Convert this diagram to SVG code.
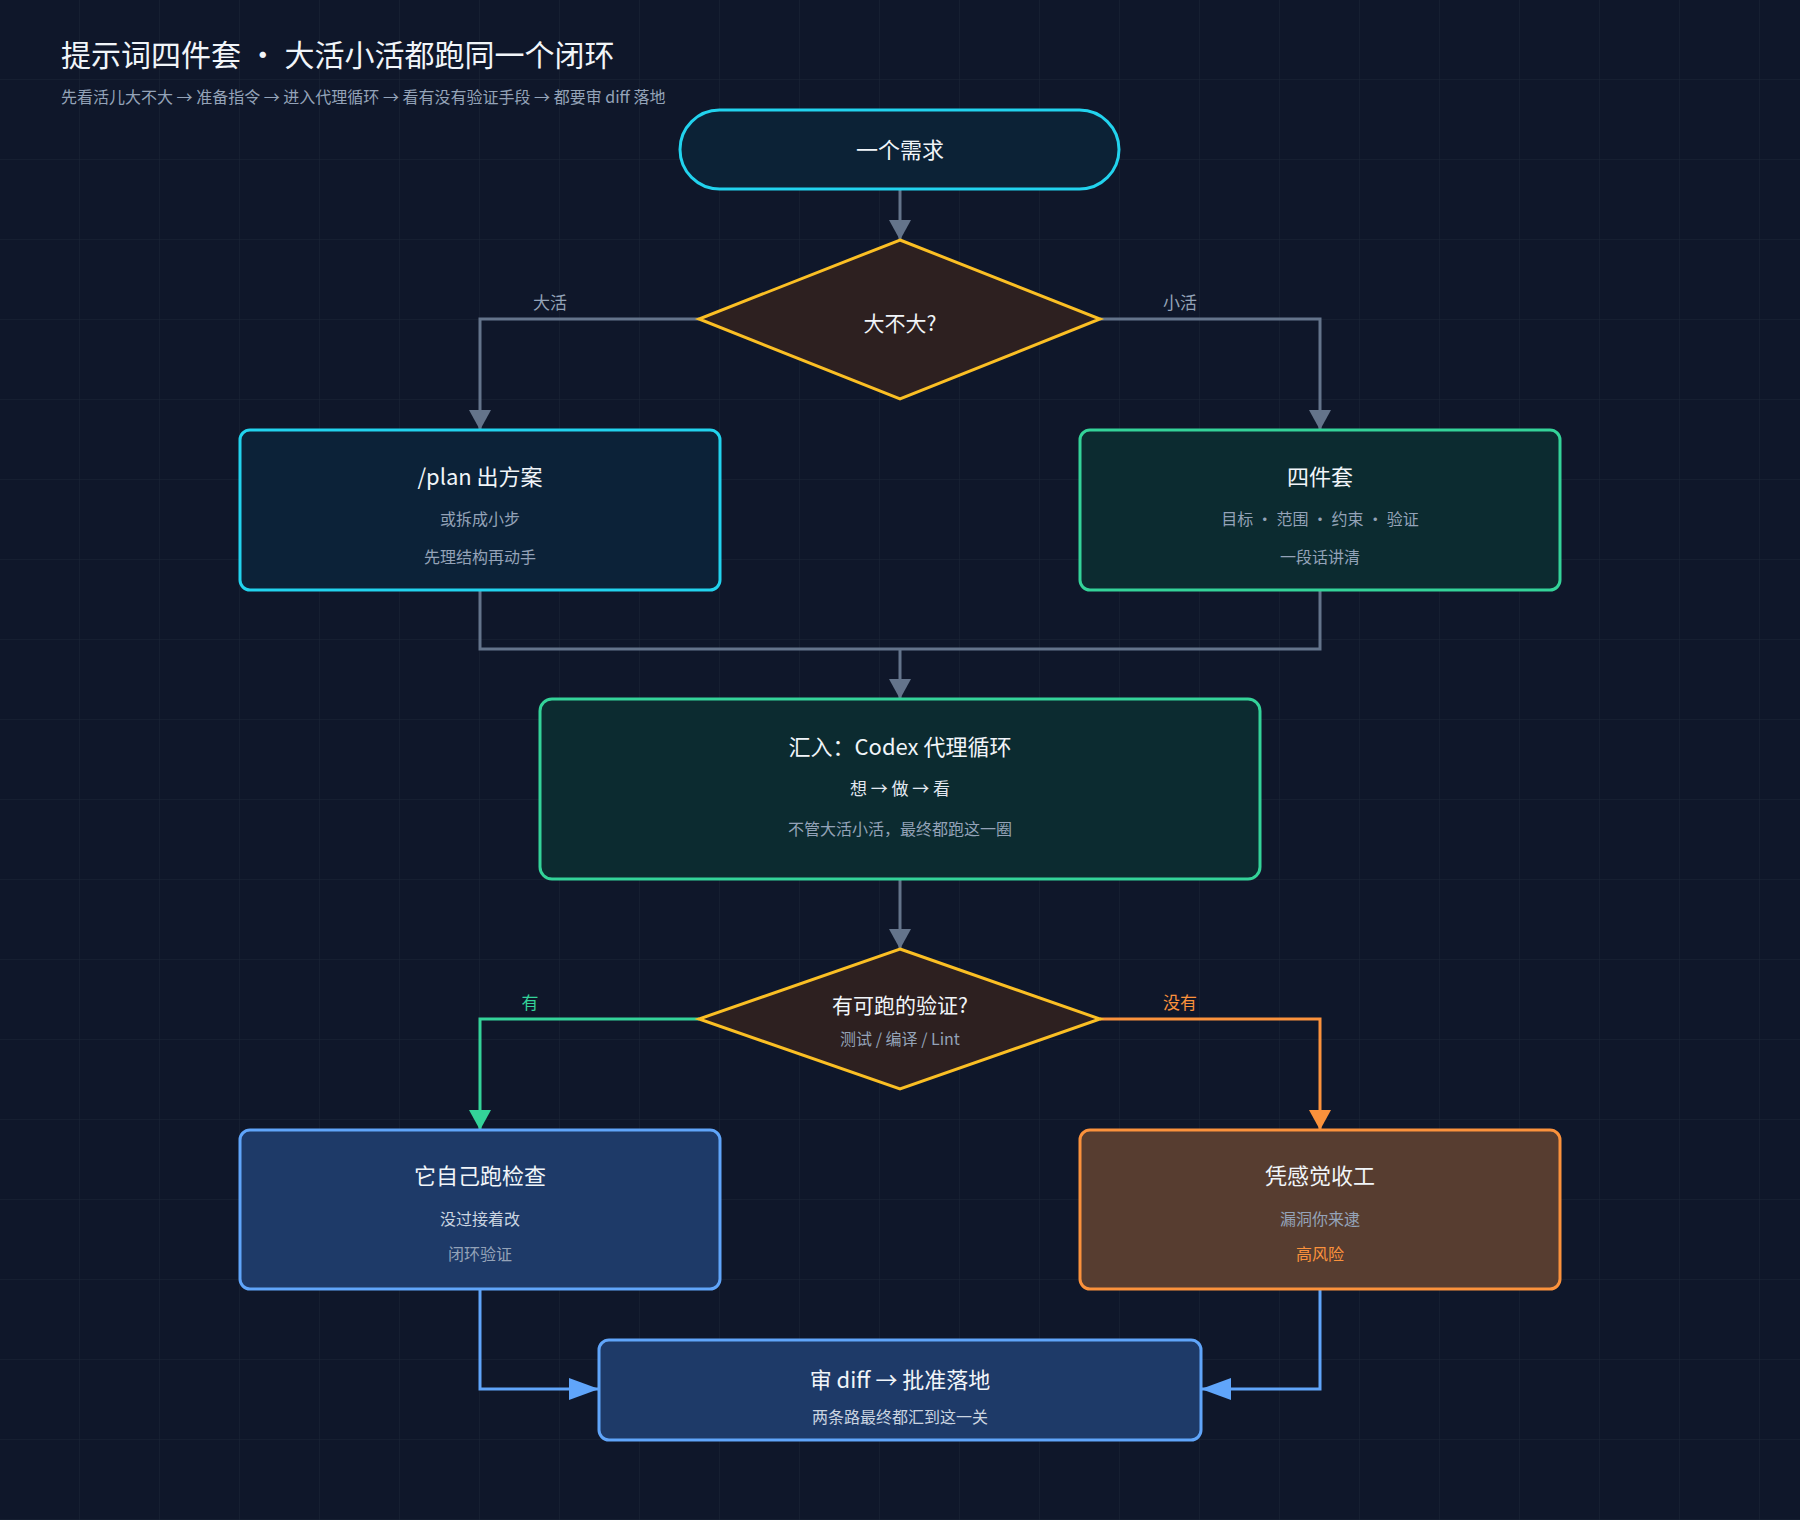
<svg xmlns="http://www.w3.org/2000/svg" width="1800" height="1520" viewBox="0 0 1800 1520">
<defs>
<pattern id="grid" width="80" height="80" patternUnits="userSpaceOnUse"><path d="M80 0V80M0 80H80" fill="none" stroke="#1b2638" stroke-width="1"/></pattern>
<marker id="ag" markerWidth="20" markerHeight="24" refX="20" refY="12" orient="auto" markerUnits="userSpaceOnUse"><path d="M0 1L20 12L0 23Z" fill="#64748b"/></marker>
<marker id="agr" markerWidth="20" markerHeight="24" refX="20" refY="12" orient="auto" markerUnits="userSpaceOnUse"><path d="M0 1L20 12L0 23Z" fill="#34d399"/></marker>
<marker id="aor" markerWidth="20" markerHeight="24" refX="20" refY="12" orient="auto" markerUnits="userSpaceOnUse"><path d="M0 1L20 12L0 23Z" fill="#fb923c"/></marker>
<marker id="abl" markerWidth="30" markerHeight="24" refX="30" refY="12" orient="auto" markerUnits="userSpaceOnUse"><path d="M0 1L30 12L0 23Z" fill="#60a5fa"/></marker>
</defs>
<style>
text{font-family:"Noto Sans CJK SC","Liberation Sans",sans-serif;text-anchor:middle}
.t{fill:#f1f5f9;font-size:22px}
.s{fill:#94a3b8;font-size:16px}
.l{fill:#94a3b8;font-size:17px}
.n{stroke-width:3}
.c{fill:none;stroke-width:3}
</style>
<rect width="1800" height="1520" fill="#0f172a"/>
<rect width="1800" height="1520" fill="url(#grid)"/>
<text x="61" y="66" style="text-anchor:start;font-size:30px;fill:#f1f5f9">提示词四件套 · 大活小活都跑同一个闭环</text>
<text x="61" y="103" style="text-anchor:start;font-size:16px;fill:#94a3b8">先看活儿大不大 → 准备指令 → 进入代理循环 → 看有没有验证手段 → 都要审 diff 落地</text>
<g id="connectors">
<path class="c" stroke="#64748b" d="M900 189V240" marker-end="url(#ag)"/>
<path class="c" stroke="#64748b" d="M699 319H480V430" marker-end="url(#ag)"/>
<path class="c" stroke="#64748b" d="M1100 319H1320V430" marker-end="url(#ag)"/>
<path class="c" stroke="#64748b" d="M480 590V649H1320V590M900 649V699" marker-end="url(#ag)"/>
<path class="c" stroke="#64748b" d="M900 879V949" marker-end="url(#ag)"/>
<path class="c" stroke="#34d399" d="M699 1019H480V1130" marker-end="url(#agr)"/>
<path class="c" stroke="#fb923c" d="M1100 1019H1320V1130" marker-end="url(#aor)"/>
<path class="c" stroke="#60a5fa" d="M480 1289V1389H599" marker-end="url(#abl)"/>
<path class="c" stroke="#60a5fa" d="M1320 1289V1389H1201" marker-end="url(#abl)"/>
<text class="l" x="550" y="309">大活</text>
<text class="l" x="1180" y="309">小活</text>
<text class="l" x="530" y="1009" style="fill:#34d399">有</text>
<text class="l" x="1180" y="1009" style="fill:#fb923c">没有</text>
</g>
<g id="start"><rect class="n" x="680" y="110" width="439" height="79" rx="39.5" fill="#0c2236" stroke="#22d3ee"/><text class="t" x="900" y="158">一个需求</text></g>
<g id="d1"><path class="n" d="M900 240L1100 319L900 399L699 319Z" fill="#2d2020" stroke="#fbbf24"/><text class="t" x="900" y="331" style="font-size:21px">大不大?</text></g>
<g id="plan"><rect class="n" x="240" y="430" width="480" height="160" rx="10" fill="#0c2238" stroke="#22d3ee"/><text class="t" x="480" y="485">/plan 出方案</text><text class="s" x="480" y="525">或拆成小步</text><text class="s" x="480" y="563">先理结构再动手</text></g>
<g id="four"><rect class="n" x="1080" y="430" width="480" height="160" rx="10" fill="#0c2b30" stroke="#34d399"/><text class="t" x="1320" y="485">四件套</text><text class="s" x="1320" y="525">目标 · 范围 · 约束 · 验证</text><text class="s" x="1320" y="563">一段话讲清</text></g>
<g id="loop"><rect class="n" x="540" y="699" width="720" height="180" rx="12" fill="#0c2b30" stroke="#34d399"/><text class="t" x="900" y="755">汇入：Codex 代理循环</text><text class="s" x="900" y="795" style="fill:#e2e8f0;font-size:17px">想 → 做 → 看</text><text class="s" x="900" y="835">不管大活小活，最终都跑这一圈</text></g>
<g id="d2"><path class="n" d="M900 949L1100 1019L900 1089L699 1019Z" fill="#2d2020" stroke="#fbbf24"/><text class="t" x="900" y="1013" style="font-size:21px">有可跑的验证?</text><text class="s" x="900" y="1045">测试 / 编译 / Lint</text></g>
<g id="self"><rect class="n" x="240" y="1130" width="480" height="159" rx="10" fill="#1e3a68" stroke="#60a5fa"/><text class="t" x="480" y="1184">它自己跑检查</text><text class="s" x="480" y="1225" style="fill:#cbd5e1">没过接着改</text><text class="s" x="480" y="1260">闭环验证</text></g>
<g id="feel"><rect class="n" x="1080" y="1130" width="480" height="159" rx="10" fill="#573d30" stroke="#fb923c"/><text class="t" x="1320" y="1184">凭感觉收工</text><text class="s" x="1320" y="1225">漏洞你来逮</text><text class="s" x="1320" y="1260" style="fill:#fb923c">高风险</text></g>
<g id="final"><rect class="n" x="599" y="1340" width="602" height="100" rx="10" fill="#1e3a68" stroke="#60a5fa"/><text class="t" x="900" y="1388">审 diff → 批准落地</text><text class="s" x="900" y="1423" style="fill:#cbd5e1">两条路最终都汇到这一关</text></g>
</svg>
